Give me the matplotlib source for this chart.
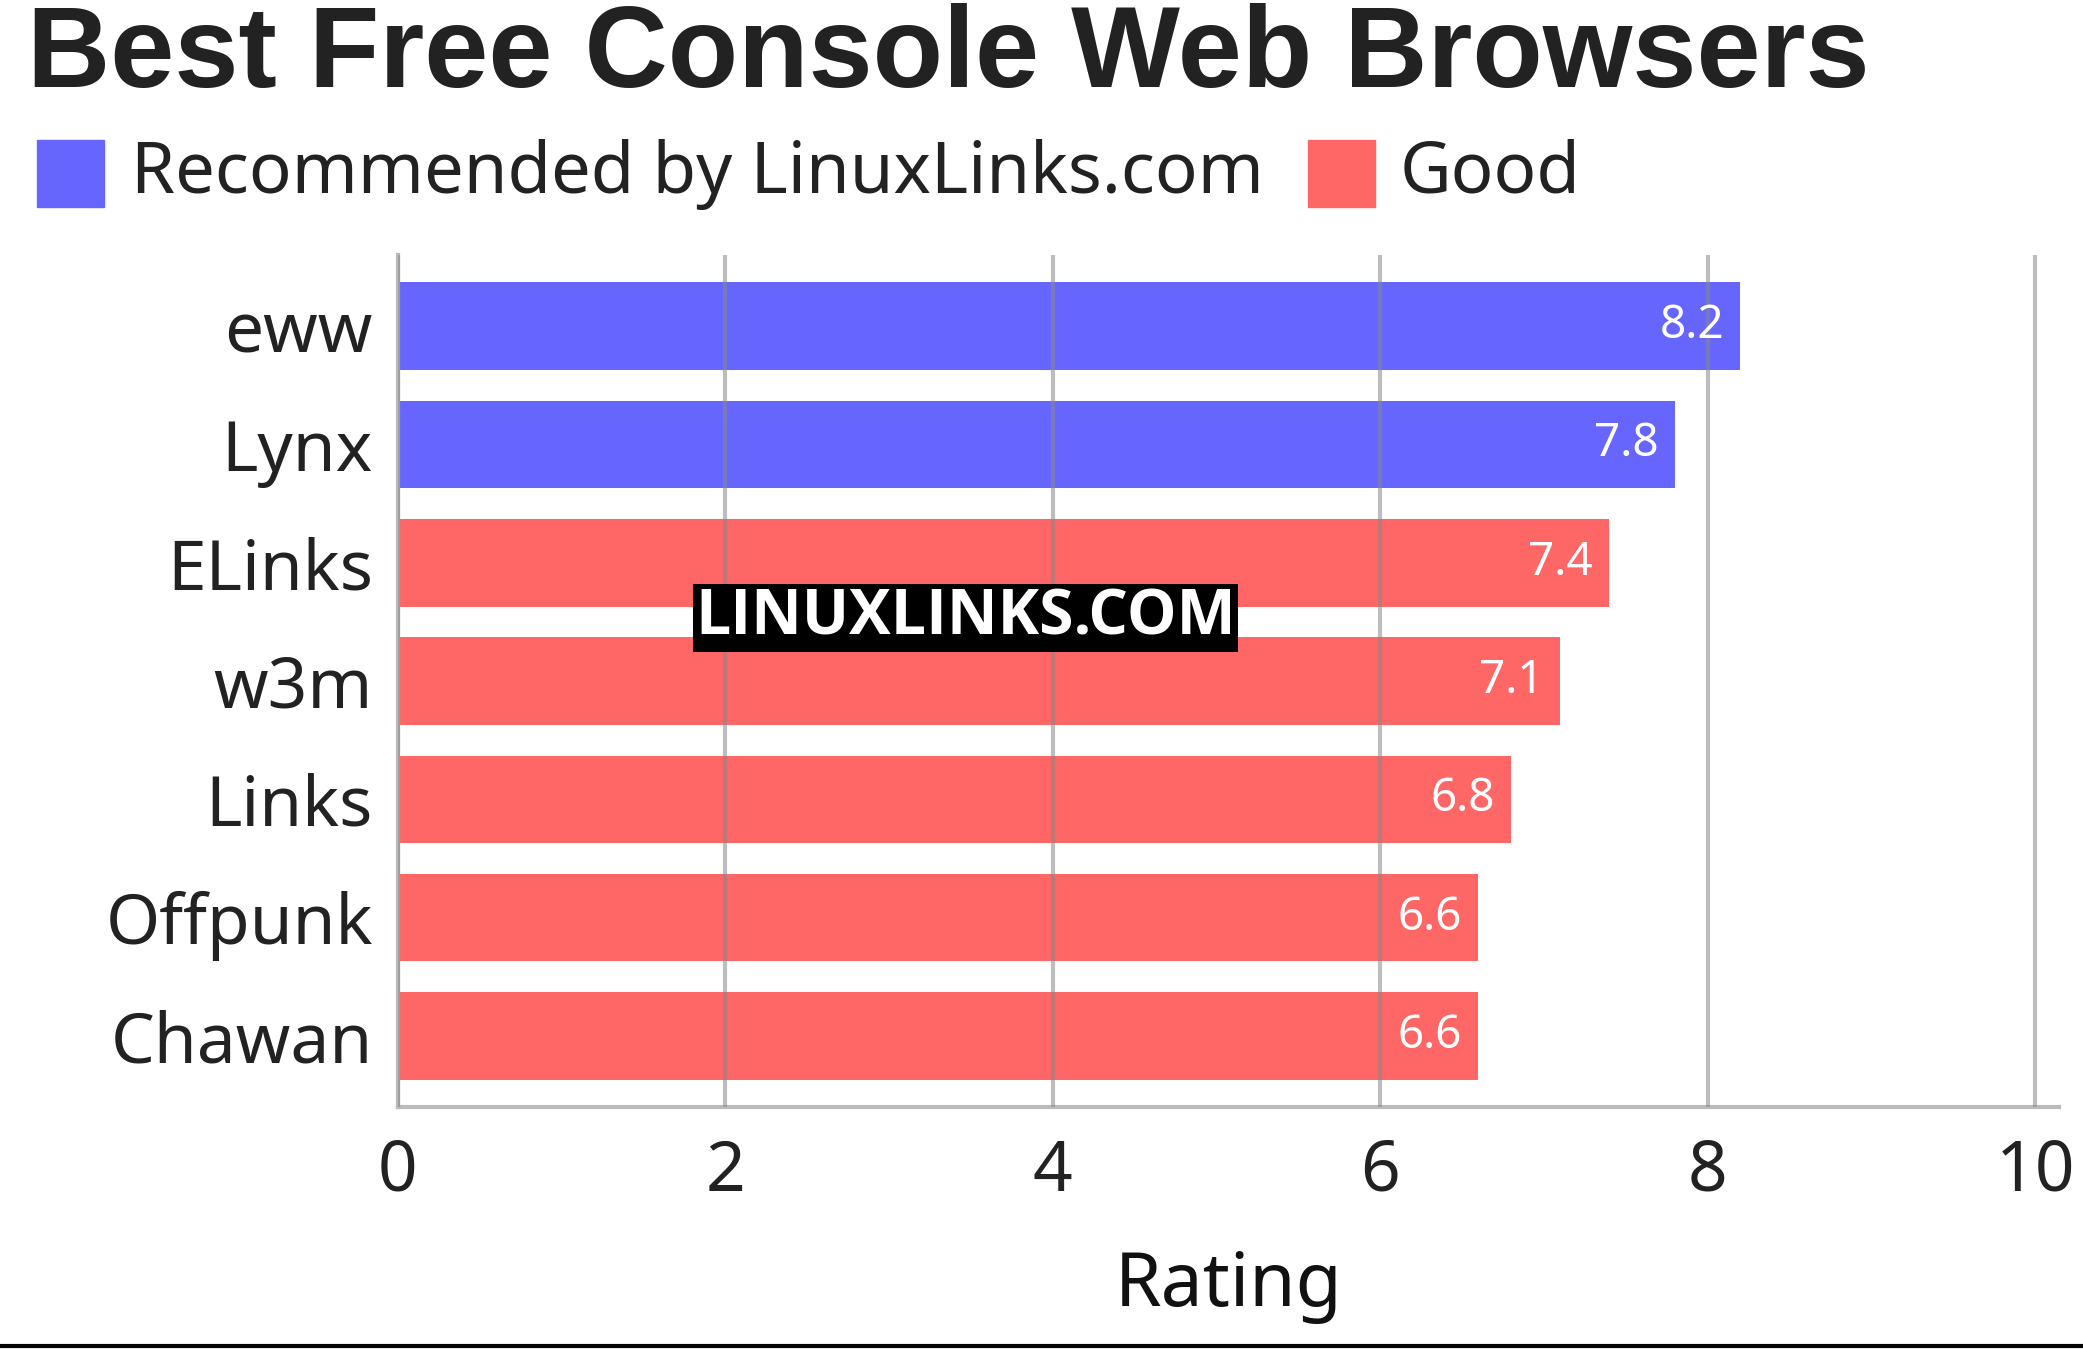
import matplotlib
matplotlib.use("Agg")
import matplotlib.pyplot as plt
from matplotlib.patches import Rectangle

names = ["eww", "Lynx", "ELinks", "w3m", "Links", "Offpunk", "Chawan"]
ratings = [8.2, 7.8, 7.4, 7.1, 6.8, 6.6, 6.6]
groups = ["Recommended", "Recommended", "Good", "Good", "Good", "Good", "Good"]
colors = {"Recommended": "#6666ff", "Good": "#ff6666"}
legend_labels = ["Recommended by LinuxLinks.com", "Good"]

fig = plt.figure(figsize=(20.83, 13.5), dpi=100)
ax = fig.add_axes([0.191, 0.180, 0.9885 - 0.191, 0.811 - 0.180])
ys = list(range(len(names)))
ax.barh(ys, ratings, height=0.74, color=[colors[g] for g in groups], zorder=1)
for y, v in zip(ys, ratings):
    ax.text(v - 0.1, y, f"{v}", ha="right", va="center", color="white",
            fontsize=33, family="Noto Sans", zorder=3)
ax.set_xlim(0, 10.146)
ax.set_ylim(6.6, -0.6)
ax.set_yticks(ys)
ax.set_yticklabels(names, fontsize=50, family="Noto Sans", color="#222222")
ax.set_xticks([0, 2, 4, 6, 8, 10])
ax.set_xticklabels(["0", "2", "4", "6", "8", "10"], fontsize=50, family="Noto Sans", color="#222222")
ax.tick_params(axis="both", length=0, pad=18)
ax.tick_params(axis="x", pad=22)
ax.grid(axis="x", color="#888888", alpha=0.55, linewidth=3, zorder=2)
ax.set_axisbelow(False)
for s in ["top", "right"]:
    ax.spines[s].set_visible(False)
for s in ["left", "bottom"]:
    ax.spines[s].set_color("#bbbbbb")
    ax.spines[s].set_linewidth(3)
ax.set_xlabel("Rating", fontsize=54, family="Noto Sans", color="#111111", labelpad=30)

fig.text(0.013, 0.958, "Best Free Console Web Browsers", fontsize=83, fontweight="bold",
         family="Liberation Sans", color="#222222", va="center", ha="left")

for (x0, xt), lab, key in zip([(0.018, 0.063), (0.628, 0.672)], legend_labels, ["Recommended", "Good"]):
    fig.patches.append(Rectangle((x0, 0.847), 0.032, 0.049, transform=fig.transFigure,
                                 color=colors[key]))
    fig.text(xt, 0.871, lab, fontsize=51, family="Noto Sans", color="#222222", va="center")

fig.text(0.4635, 0.542, "LINUXLINKS.COM", fontsize=45, fontweight="bold", family="Open Sans",
         color="white", ha="center", va="center",
         bbox=dict(facecolor="black", edgecolor="none", pad=2))
fig.add_artist(plt.Line2D([0, 1], [0.003, 0.003], color="black", linewidth=3,
                          transform=fig.transFigure))
fig.savefig("out.png", dpi=100)
